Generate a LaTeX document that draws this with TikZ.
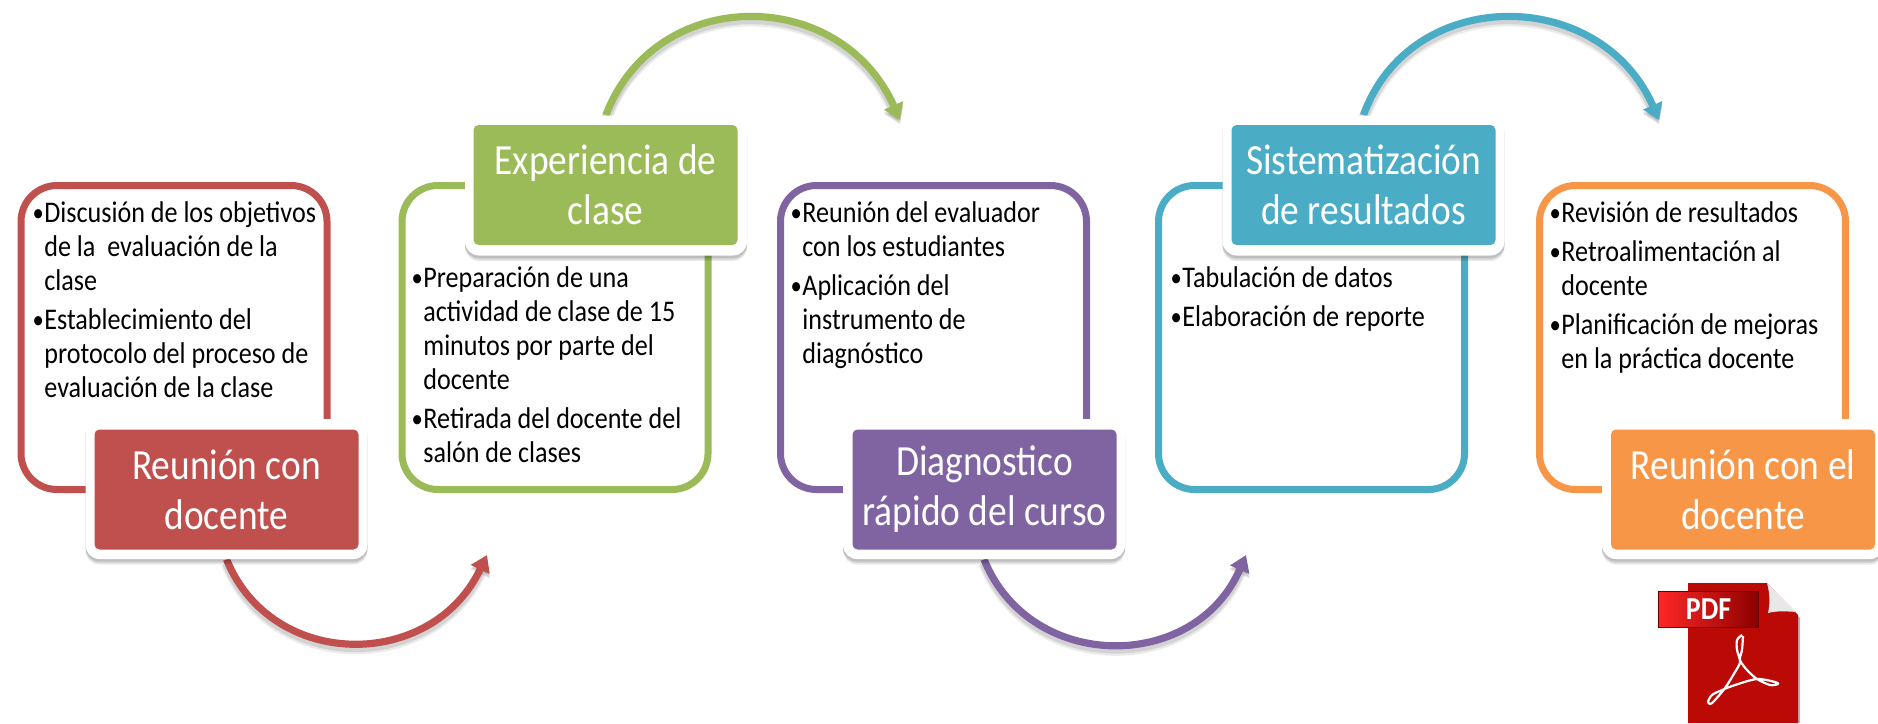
\documentclass[tikz,border=0pt]{standalone}
\usepackage{fontspec}
\setmainfont[FakeStretch=0.87]{Carlito}
\usetikzlibrary{arrows.meta,shadows,backgrounds}
\definecolor{cred}{HTML}{C0504D}
\definecolor{cgreen}{HTML}{9BBB59}
\definecolor{cpurple}{HTML}{8064A2}
\definecolor{cblue}{HTML}{4BACC6}
\definecolor{corange}{HTML}{F79646}
\definecolor{pdfred}{HTML}{BB0A05}
\newcommand{\itm}{\rule{0pt}{11pt}\makebox[5.5pt][l]{\hspace*{-0.4pt}\raisebox{0.6pt}{\fontsize{13}{13}\selectfont •}}}
\newcommand{\cnt}{\hspace*{5.5pt}}
\tikzset{
  outline/.style={draw=#1,line width=3.5pt,rounded corners=18pt,minimum width=153pt,minimum height=152pt,inner sep=0pt,fill=white},
  titleback/.style={fill=white,rounded corners=7pt,minimum width=141pt,minimum height=70pt,inner sep=0pt,
    general shadow={shadow xshift=0pt,shadow yshift=-1.2pt,fill=black,opacity=.10,rounded corners=7pt},
    general shadow={shadow xshift=0pt,shadow yshift=-2pt,fill=black,opacity=.10,rounded corners=7pt},
    general shadow={shadow xshift=0pt,shadow yshift=-2.8pt,fill=black,opacity=.08,rounded corners=7pt}},
  titlebox/.style={fill=#1,rounded corners=2.5pt,minimum width=132pt,minimum height=60pt,inner sep=0pt,
    text=white,align=center,font=\fontsize{21.5}{25}\selectfont},
  bodytext/.style={anchor=north west,inner sep=0pt,align=left,text=black,font=\fontsize{15}{17}\selectfont},
  arcline/.style={draw=#1,line width=3.6pt,-{Triangle[width=10pt,length=8pt]},
    preaction={draw=black,opacity=.10,line width=4.6pt,transform canvas={yshift=-1.6pt}},
    preaction={draw=black,opacity=.08,line width=5.6pt,transform canvas={yshift=-2.2pt}}},
}
\begin{document}
\begin{tikzpicture}[x=0.5pt,y=-0.5pt]
\useasboundingbox (0,0) rectangle (1878,723);
% outlined boxes
\node[outline=cred]    (b1) at (174,337.5) {};
\node[outline=cgreen]  (b2) at (555,337.5) {};
\node[outline=cpurple] (b3) at (933.5,337.5) {};
\node[outline=cblue]   (b4) at (1311.5,337.5) {};
\node[outline=corange] (b5) at (1692.5,337.5) {};
% body texts
\node[bodytext] (x1) at (33,200) {\itm Discusión de los objetivos\\
  \cnt de la\ \ evaluación de la\\
  \cnt clase\\[2.5pt]
  \itm Establecimiento del\\
  \cnt protocolo del proceso de\\
  \cnt evaluación de la clase};
\node[bodytext] (x2) at (412,265) {\itm Preparación de una\\
  \cnt actividad de clase de 15\\
  \cnt minutos por parte del\\
  \cnt docente\\[2.5pt]
  \itm Retirada del docente del\\
  \cnt salón de clases};
\node[bodytext] (x3) at (791,200) {\itm Reunión del evaluador\\
  \cnt con los estudiantes\\[2.5pt]
  \itm Aplicación del\\
  \cnt instrumento de\\
  \cnt diagnóstico};
\node[bodytext] (x4) at (1171,265) {\itm Tabulación de datos\\[2.5pt]
  \itm Elaboración de reporte};
\node[bodytext] (x5) at (1550,200) {\itm Revisión de resultados\\[2.5pt]
  \itm Retroalimentación al\\
  \cnt docente\\[2.5pt]
  \itm Planificación de mejoras\\
  \cnt en la práctica docente};
% title boxes
\node[titleback] (o1) at (226.5,489) {};
\node[titlebox=cred] (t1) at (226.5,489.5) {Reunión con\\docente};
\node[titleback] (o2) at (606,185.5) {};
\node[titlebox=cgreen] (t2) at (605.5,185) {Experiencia de\\clase};
\node[titleback] (o3) at (984,489) {};
\node[titlebox=cpurple] (t3) at (984.5,489.5) {Diagnostico\\rápido del curso};
\node[titleback] (o4) at (1363.5,185.5) {};
\node[titlebox=cblue] (t4) at (1363.5,185) {Sistematización\\de resultados};
\node[titleback] (o5) at (1743,489) {};
\node[titlebox=corange] (t5) at (1743,489.5) {Reunión con el\\docente};
% arrows
\coordinate (e1) at (487,555);
\coordinate (e2) at (900,120);
\coordinate (e3) at (1246,555);
\coordinate (e4) at (1659,120);
\begin{pgfonlayer}{background}
\draw[arcline=cred] (o1.south) .. controls (272,671) and (432,671) .. (e1);
\draw[arcline=cgreen] (o2.north) .. controls (655,-15) and (840,-15) .. (e2);
\draw[arcline=cpurple] (o3.south) .. controls (1030,673) and (1195,673) .. (e3);
\draw[arcline=cblue] (o4.north) .. controls (1410,-15) and (1600,-15) .. (e4);
\end{pgfonlayer}
% PDF icon
\fill[black,opacity=.3] (1798,616) -- (1800,618) -- (1800,723) -- (1798,723) -- cycle;
\fill[pdfred] (1688,583) -- (1767,583) -- (1798,615) -- (1798,723) -- (1688,723) -- cycle;
\fill[gray!18] (1767,583) -- (1796,612) .. controls (1785,611) and (1775,611) .. (1768,613) .. controls (1770,604) and (1770,594) .. (1767,583) -- cycle;
\draw[white,line width=1.1pt,line join=round]
  plot[smooth] coordinates {(1742,635) (1737,640) (1737,650) (1740,662) (1735,672) (1725,688) (1712,703) (1708,702) (1712,695) (1722,690) (1735,685) (1757,679) (1775,682) (1778,684) (1770,685) (1757,679) (1747,670) (1740,660) (1742,650) (1743,636)};
\node[left color=red!85!white,right color=red!55!black,draw=red!40!black,line width=0.5pt,inner sep=0pt,
  minimum width=50pt,minimum height=18pt,text=white,font=\bfseries\fontsize{16}{16}\selectfont] (pdf) at (1708.5,609) {PDF};
\end{tikzpicture}
\end{document}
